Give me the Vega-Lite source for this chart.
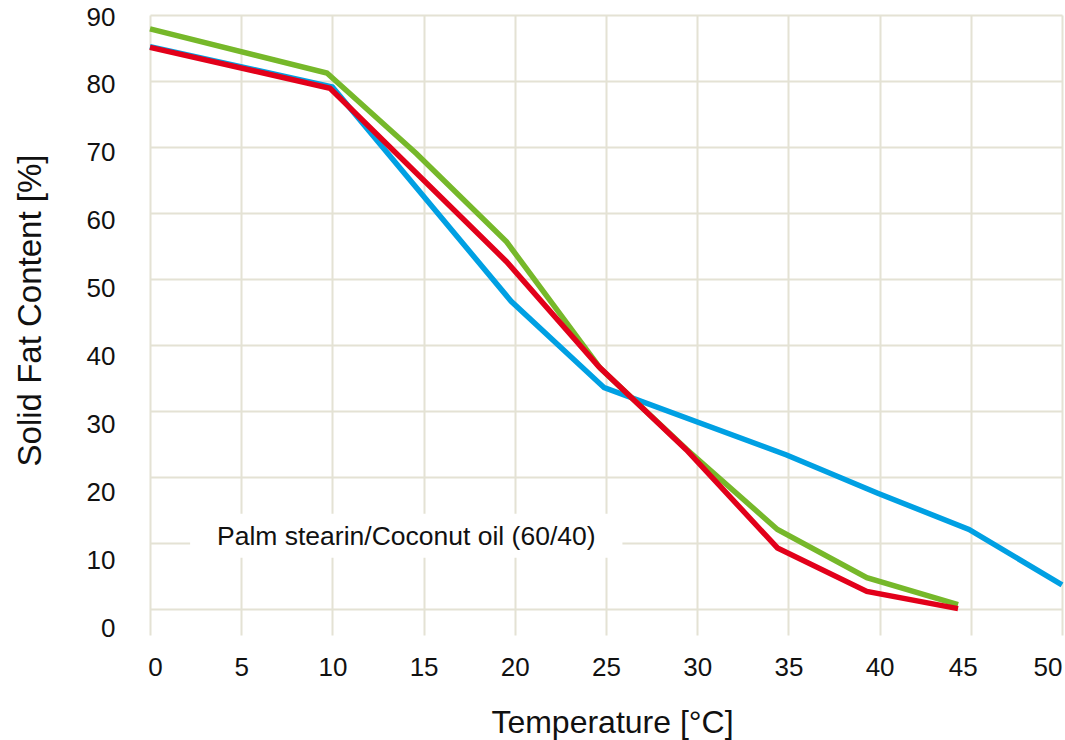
{
  "$schema": "https://vega.github.io/schema/vega-lite/v6.json",
  "width": 912,
  "height": 620,
  "autosize": {"type": "none"},
  "padding": {"left": 150, "top": 15, "right": 3, "bottom": 105},
  "background": "#ffffff",
  "config": {
    "view": {"stroke": null},
    "font": "Liberation Sans",
    "axis": {
      "domain": false,
      "ticks": false,
      "gridColor": "#e4e2d4",
      "gridWidth": 2,
      "labelFont": "Liberation Sans",
      "labelFontSize": 26,
      "labelColor": "#111111",
      "titleFont": "Liberation Sans",
      "titleFontSize": 32,
      "titleFontWeight": "normal",
      "titleColor": "#111111"
    }
  },
  "datasets": {
    "curves": [
      {"series": "Blend A", "temp": 0, "sfc": 85.2},
      {"series": "Blend A", "temp": 10, "sfc": 79.1},
      {"series": "Blend A", "temp": 19.8, "sfc": 46.6},
      {"series": "Blend A", "temp": 24.9, "sfc": 33.5},
      {"series": "Blend A", "temp": 34.9, "sfc": 23.3},
      {"series": "Blend A", "temp": 39.9, "sfc": 17.5},
      {"series": "Blend A", "temp": 44.9, "sfc": 12.0},
      {"series": "Blend A", "temp": 50, "sfc": 3.6},
      {"series": "Blend B", "temp": 0, "sfc": 87.9},
      {"series": "Blend B", "temp": 9.7, "sfc": 81.2},
      {"series": "Blend B", "temp": 14.6, "sfc": 69.0},
      {"series": "Blend B", "temp": 19.55, "sfc": 55.6},
      {"series": "Blend B", "temp": 24.7, "sfc": 36.4},
      {"series": "Blend B", "temp": 29.4, "sfc": 24.2},
      {"series": "Blend B", "temp": 34.4, "sfc": 12.0},
      {"series": "Blend B", "temp": 39.3, "sfc": 4.7},
      {"series": "Blend B", "temp": 44.3, "sfc": 0.6},
      {"series": "Blend C", "temp": 0, "sfc": 85.1},
      {"series": "Blend C", "temp": 9.87, "sfc": 78.9},
      {"series": "Blend C", "temp": 19.55, "sfc": 52.6},
      {"series": "Blend C", "temp": 24.6, "sfc": 36.7},
      {"series": "Blend C", "temp": 29.4, "sfc": 24.1},
      {"series": "Blend C", "temp": 34.4, "sfc": 9.2},
      {"series": "Blend C", "temp": 39.3, "sfc": 2.6},
      {"series": "Blend C", "temp": 44.3, "sfc": 0.0}
    ],
    "note": [
      {"label": "Palm stearin/Coconut oil (60/40)", "x0": 2.2, "x1": 25.9, "y0": 7.7, "y1": 14.4, "xm": 14.05, "ym": 10.8}
    ]
  },
  "encoding": {},
  "layer": [
    {
      "data": {"name": "note"},
      "mark": {"type": "rect", "fill": "#ffffff"},
      "encoding": {
        "x": {"field": "x0", "type": "quantitative", "scale": {"domain": [0, 50], "nice": false, "zero": false},
          "axis": {"values": [0, 5, 10, 15, 20, 25, 30, 35, 40, 45, 50], "title": "Temperature [°C]", "labelPadding": 19, "labelFlush": false, "labelAlign": {"expr": "datum.value == 50 ? 'right' : 'center'"}, "labelOffset": {"expr": "datum.value == 0 ? 5 : (datum.value == 45 ? -8 : 0)"}, "titleX": 462, "titleY": 97, "titleBaseline": "alphabetic", "titleAnchor": null, "titleAlign": "center"}},
        "x2": {"field": "x1"},
        "y": {"field": "y0", "type": "quantitative", "scale": {"domain": [-4, 90], "nice": false, "zero": false},
          "axis": {"values": [0, 10, 20, 30, 40, 50, 60, 70, 80, 90], "title": "Solid Fat Content [%]", "labelPadding": 35, "labelOffset": {"expr": "2 + datum.value * -0.0 + (90 - datum.value) * 0.2"}, "labelFlush": false, "titleX": -110, "titleY": 295, "titleAngle": -90, "titleBaseline": "alphabetic", "titleAlign": "center", "titleFontSize": 33}},
        "y2": {"field": "y1"}
      }
    },
    {
      "data": {"name": "note"},
      "mark": {"type": "text", "fontSize": 26.5, "font": "Liberation Sans", "color": "#111111", "align": "center", "baseline": "middle"},
      "encoding": {
        "x": {"field": "xm", "type": "quantitative"},
        "y": {"field": "ym", "type": "quantitative"},
        "text": {"field": "label"}
      }
    },
    {
      "data": {"name": "curves"},
      "mark": {"type": "line", "strokeWidth": 5.5, "strokeJoin": "miter", "strokeCap": "butt"},
      "encoding": {
        "x": {"field": "temp", "type": "quantitative"},
        "y": {"field": "sfc", "type": "quantitative"},
        "color": {"field": "series", "type": "nominal", "scale": {"domain": ["Blend A", "Blend B", "Blend C"], "range": ["#00a0e3", "#76b82a", "#e2001a"]}, "legend": null},
        "order": {"field": "temp"}
      }
    }
  ]
}
